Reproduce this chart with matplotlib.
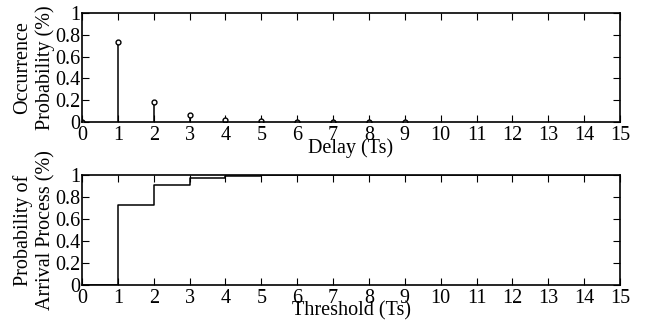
import numpy as np
import matplotlib
matplotlib.use('Agg')
import matplotlib.pyplot as plt

plt.rcParams['font.family'] = 'Liberation Serif'
plt.rcParams['font.size'] = 14.5

# delay distribution (stem plot)
delay = [0, 1, 2, 3, 4, 5, 6, 7, 8, 9]
occurrence = [0.0, 0.73, 0.18, 0.06, 0.02, 0.006, 0.003, 0.002, 0.001, 0.001]

# cumulative arrival probability (step plot)
threshold = [0, 1, 2, 3, 4, 5, 6, 7, 8, 9, 10, 11, 12, 13, 14, 15]
arrival = [0.0, 0.73, 0.91, 0.97, 0.99, 0.996, 0.998, 0.999, 1.0, 1.0,
           1.0, 1.0, 1.0, 1.0, 1.0, 1.0]

xticks = list(range(16))
yticks = [0, 0.2, 0.4, 0.6, 0.8, 1]
yticklabels = ['0', '0.2', '0.4', '0.6', '0.8', '1']

W, H = 657, 324
fig = plt.figure(figsize=(W / 100, H / 100), dpi=100)
ax1 = fig.add_axes([82 / W, 1 - 122 / H, 538 / W, 109 / H])
ax2 = fig.add_axes([82 / W, 1 - 285 / H, 538 / W, 110 / H])


def style(ax):
    ax.set_xlim(0, 15)
    ax.set_ylim(0, 1)
    ax.set_xticks(xticks)
    ax.set_yticks(yticks)
    ax.set_yticklabels(yticklabels)
    ax.tick_params(direction='in', top=True, right=True, length=5, width=0.8,
                   labelsize=14.5)
    ax.tick_params(axis='x', pad=3)
    ax.tick_params(axis='y', pad=1)
    for s in ax.spines.values():
        s.set_linewidth(1.2)


markerline, stemlines, baseline = ax1.stem(delay, occurrence, basefmt=' ')
plt.setp(stemlines, color='black', linewidth=1.1)
plt.setp(markerline, color='black', marker='o', markersize=3.5,
         markerfacecolor='white', markeredgewidth=1.0)
style(ax1)
ax1.set_xlabel('Delay (Ts)', labelpad=-5)
ax1.set_ylabel('Occurrence\nProbability (%)', labelpad=0, linespacing=1.25)

ax2.step(threshold, arrival, where='post', color='black', linewidth=1.1)
style(ax2)
ax2.set_xlabel('Threshold (Ts)', labelpad=-5)
ax2.set_ylabel('Probability of\nArrival Process (%)', labelpad=0, linespacing=1.25)

fig.savefig('out.png', dpi=100)
